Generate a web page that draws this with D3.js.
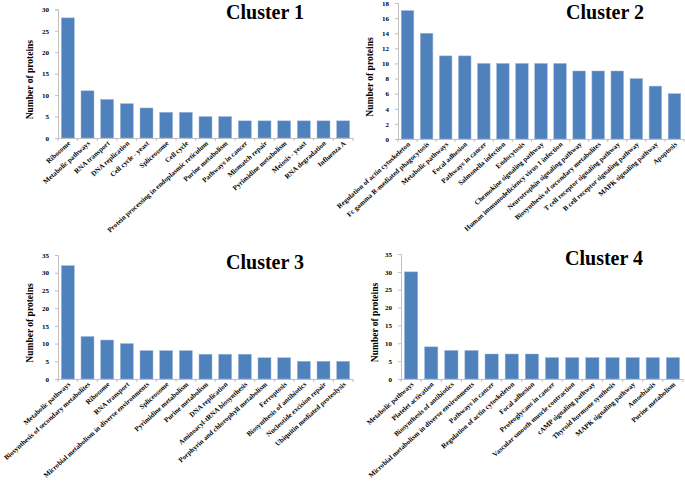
<!DOCTYPE html>
<html><head><meta charset="utf-8">
<script src="https://cdn.jsdelivr.net/npm/d3@7"></script>
<style>
body{margin:0;background:#fff;}
svg{display:block;}
text{font-family:"Liberation Serif","Times New Roman",serif;font-weight:bold;fill:#000;}
</style></head>
<body>
<svg id="chart" width="685" height="492"></svg>
<script>
const c1Cats = ["Ribosome","Metabolic pathways","RNA transport","DNA replication","Cell cycle - yeast","Spliceosome","Cell cycle","Protein processing in endoplasmic reticulum","Purine metabolism","Pathways in cancer","Mismatch repair","Pyrimidine metabolism","Meiosis - yeast","RNA degradation","Influenza A"];
const c1Vals = [28,11,9,8,7,6,6,5,5,4,4,4,4,4,4];
const c1Ticks = [0,5,10,15,20,25,30];

const c2Cats = ["Regulation of actin cytoskeleton","Fc gamma R-mediated phagocytosis","Metabolic pathways","Focal adhesion","Pathways in cancer","Salmonella infection","Endocytosis","Chemokine signaling pathway","Human immunodeficiency virus 1 infection","Neurotrophin signaling pathway","Biosynthesis of secondary metabolites","T cell receptor signaling pathway","B cell receptor signaling pathway","MAPK signaling pathway","Apoptosis"];
const c2Vals = [17,14,11,11,10,10,10,10,10,9,9,9,8,7,6];
const c2Ticks = [0,2,4,6,8,10,12,14,16,18];

const c3Cats = ["Metabolic pathways","Biosynthesis of secondary metabolites","Ribosome","RNA transport","Microbial metabolism in diverse environments","Spliceosome","Pyrimidine metabolism","Purine metabolism","DNA replication","Aminoacyl-tRNA biosynthesis","Porphyrin and chlorophyll metabolism","Ferroptosis","Biosynthesis of antibiotics","Nucleotide excision repair","Ubiquitin mediated proteolysis"];
const c3Vals = [32,12,11,10,8,8,8,7,7,7,6,6,5,5,5];
const c3Ticks = [0,5,10,15,20,25,30,35];

const c4Cats = ["Metabolic pathways","Platelet activation","Biosynthesis of antibiotics","Microbial metabolism in diverse environments","Pathways in cancer","Regulation of actin cytoskeleton","Focal adhesion","Proteoglycans in cancer","Vascular smooth muscle contraction","cAMP signaling pathway","Thyroid hormone synthesis","MAPK signaling pathway","Amoebiasis","Purine metabolism"];
const c4Vals = [30,9,8,8,7,7,7,6,6,6,6,6,6,6];
const c4Ticks = [0,5,10,15,20,25,30,35];

const titles = ["Cluster 1","Cluster 2","Cluster 3","Cluster 4"];
const yTitle = "Number of proteins";

const panels = [
  {cats:c1Cats, vals:c1Vals, ticks:c1Ticks, x0:58, x1:353, yT:9.3, yB:138, tx:265, ty:19, ax:33},
  {cats:c2Cats, vals:c2Vals, ticks:c2Ticks, x0:398, x1:684, yT:3, yB:139, tx:605, ty:19, ax:373},
  {cats:c3Cats, vals:c3Vals, ticks:c3Ticks, x0:58, x1:353, yT:255, yB:379, tx:265, ty:269, ax:33},
  {cats:c4Cats, vals:c4Vals, ticks:c4Ticks, x0:401, x1:683, yT:254, yB:379, tx:604, ty:265, ax:378}
];

const svg = d3.select("#chart");
const axisColor = "#bfbfbf";
const barColor = "#4f81bd";

panels.forEach((p,i)=>{
  const g = svg.append("g");
  const pi = 0.34;
  const x = d3.scaleBand().domain(p.cats).range([p.x0,p.x1]).paddingInner(pi).paddingOuter(pi/2);
  const y = d3.scaleLinear().domain([0, d3.max(p.ticks)]).range([p.yB,p.yT]);

  g.selectAll("rect.bar").data(p.cats).join("rect")
    .attr("x", d=>x(d)).attr("width", x.bandwidth())
    .attr("y", (d,j)=>y(p.vals[j])).attr("height",(d,j)=>p.yB - y(p.vals[j]))
    .attr("fill", barColor).attr("stroke","#9fb8dc").attr("stroke-width",0.5);

  const ya = g.append("g").attr("transform",`translate(${p.x0},0)`)
    .call(d3.axisLeft(y).tickValues(p.ticks).tickSize(3).tickPadding(6).tickFormat(d3.format("d")));
  ya.select(".domain").attr("stroke",axisColor);
  ya.selectAll(".tick line").attr("stroke",axisColor);
  ya.selectAll(".tick text").style("font-size","7px").style("font-family","'Liberation Serif',serif").style("font-weight","bold").attr("fill","#000");

  g.append("line").attr("x1",p.x0).attr("x2",p.x1).attr("y1",p.yB+0.5).attr("y2",p.yB+0.5).attr("stroke",axisColor);
  const bounds = p.cats.map(c=>x(c) - x.step()*pi/2).concat([p.x1]);
  g.selectAll("line.xt").data(bounds).join("line")
    .attr("x1",d=>d).attr("x2",d=>d).attr("y1",p.yB).attr("y2",p.yB+3).attr("stroke",axisColor);

  g.selectAll("text.cat").data(p.cats).join("text")
    .attr("transform", d=>`translate(${x(d)+x.bandwidth()/2+3},${p.yB+6}) rotate(-42)`)
    .attr("text-anchor","end")
    .style("font-size","7px")
    .text(d=>d);

  g.append("text")
    .attr("transform",`translate(${p.ax},${(p.yT+p.yB)/2+6}) rotate(-90)`)
    .attr("text-anchor","middle").style("font-size","9.5px").text(yTitle);

  g.append("text").attr("x",p.tx).attr("y",p.ty).attr("text-anchor","middle")
    .style("font-size","20px").text(titles[i]);
});
</script>
</body></html>
